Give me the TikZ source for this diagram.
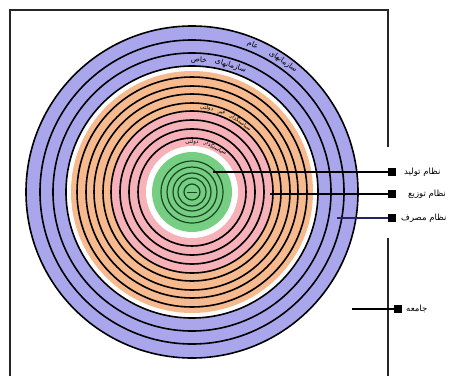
\documentclass[tikz,border=0pt]{standalone}
\usepackage{fontspec}
\TeXXeTstate=1
\newfontfamily\arabicfont[Script=Arabic]{DejaVu Sans}
\definecolor{purp}{RGB}{170,166,236}
\definecolor{peach}{RGB}{246,186,142}
\definecolor{pinkc}{RGB}{246,178,184}
\definecolor{greenc}{RGB}{118,206,130}
\definecolor{dgreen}{RGB}{25,70,35}
\definecolor{navyc}{RGB}{35,35,100}
\newcommand{\arw}[5]{\node[inner sep=0pt, rotate=#2-90] (#1) at (#2:#3pt) {\fontsize{#4}{#4}\selectfont\arabicfont\beginR #5\endR};}
\begin{document}
\begin{tikzpicture}[x=1pt,y=1pt,
  ring/.style={draw=black, line width=1.6pt},
  gring/.style={draw=dgreen, line width=1.2pt},
  frame/.style={draw=black!85, line width=1.8pt},
  conn/.style={draw=black, line width=1.5pt},
  sq/.style={fill=black, minimum size=8.5pt, inner sep=0pt},
  lab/.style={anchor=west, inner sep=0pt, font=\fontsize{8.5}{9}\selectfont\arabicfont}]
\useasboundingbox (0,0) rectangle (460,-375);
\fill[white] (0,0) rectangle (460,-375);
% frame
\draw[frame] (10,-376) -- (10,-10) -- (388,-10) -- (388,-147);
\draw[frame] (388,-238) -- (388,-376);
\begin{scope}[shift={(192,-192)}]
  \fill[purp] (0,0) circle[radius=166pt];
  \fill[white] (0,0) circle[radius=126pt];
  \fill[peach] (0,0) circle[radius=121pt];
  \fill[pinkc] (0,0) circle[radius=81pt];
  \fill[white] (0,0) circle[radius=46pt];
  \fill[greenc] (0,0) circle[radius=40pt];
  \foreach \r in {166,152,139,126} \draw[ring] (0,0) circle[radius=\r pt];
  \foreach \r in {115,106,98,89,81} \draw[ring] (0,0) circle[radius=\r pt];
  \foreach \r in {72,63,54} \draw[ring] (0,0) circle[radius=\r pt];
  \foreach \r in {31,25,19,14,8} \draw[gring] (0,0) circle[radius=\r pt];
  \draw[dgreen, line width=0.8pt] (-5,0) -- (5,0);
  % arc texts
  \arw{t1a}{55}{159}{7.5}{سازمانهای}
  \arw{t1b}{67.5}{159}{7.5}{عام}
  \arw{t2a}{73}{132}{7.5}{سازمانهای}
  \arw{t2b}{87}{132}{7.5}{خاص}
  \arw{t3a}{55}{85}{5.5}{سیاستگذار}
  \arw{t3b}{69.5}{85}{5.5}{غیر}
  \arw{t3c}{80}{85}{5.5}{دولتی}
  \arw{t4a}{62}{50}{5.5}{سیاستگذار}
  \arw{t4b}{90}{50}{5.5}{دولتی}
\end{scope}
% connectors
\coordinate (p1) at (213,-172);
\coordinate (p2) at (270,-194);
\coordinate (p3) at (337,-218);
\coordinate (p4) at (352,-309);
\node[sq] (s1) at (392,-172) {};
\node[sq] (s2) at (392,-194) {};
\node[sq] (s3) at (392,-218) {};
\node[sq] (s4) at (398,-309) {};
\draw[conn] (p1) -- (s1);
\draw[conn] (p2) -- (s2);
\draw[conn, draw=navyc] (p3) -- (s3);
\draw[conn] (p4) -- (s4);
\node[lab] (l1) at (404,-172) {\beginR نظام تولید\endR};
\node[lab] (l2) at (408,-194) {\beginR نظام توزیع\endR};
\node[lab] (l3) at (401,-218) {\beginR نظام مصرف\endR};
\node[lab] (l4) at (406,-309) {\beginR جامعه\endR};
\end{tikzpicture}
\end{document}
